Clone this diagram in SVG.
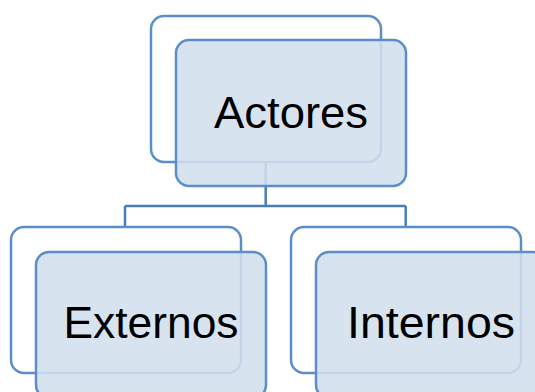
<svg xmlns="http://www.w3.org/2000/svg" width="535" height="392" viewBox="0 0 535 392">
<style>
.back{fill:#ffffff;stroke:#5B8EC8;stroke-width:2.5}
.front{fill:#D3DFEE;fill-opacity:0.88;stroke:#5B8EC8;stroke-width:2.5}
.conn{fill:none;stroke:#4A7DB5;stroke-width:2.5}
.lbl{font-family:"Liberation Sans",Arial,sans-serif;font-size:45px;fill:#000000;text-anchor:middle}
</style>
<rect width="535" height="392" fill="#ffffff"/>
<g id="connectors">
<path class="conn" d="M265.7,161 V206 M125,206 H405.7 M125,206 V227 M405.7,206 V227"/>
</g>
<g id="actores">
<rect class="back" x="151" y="16" width="230" height="146" rx="13"/>
<rect class="front" x="176" y="40" width="230" height="146" rx="13"/>
<text class="lbl" x="291" y="128" textLength="154" lengthAdjust="spacingAndGlyphs">Actores</text>
</g>
<g id="externos">
<rect class="back" x="11" y="227" width="230" height="146" rx="13"/>
<rect class="front" x="36" y="252" width="230" height="146" rx="13"/>
<text class="lbl" x="151" y="338" textLength="175" lengthAdjust="spacingAndGlyphs">Externos</text>
</g>
<g id="internos">
<rect class="back" x="291" y="227" width="230" height="146" rx="13"/>
<rect class="front" x="316" y="252" width="230" height="146" rx="13"/>
<text class="lbl" x="431" y="338" textLength="168" lengthAdjust="spacingAndGlyphs">Internos</text>
</g>
</svg>
